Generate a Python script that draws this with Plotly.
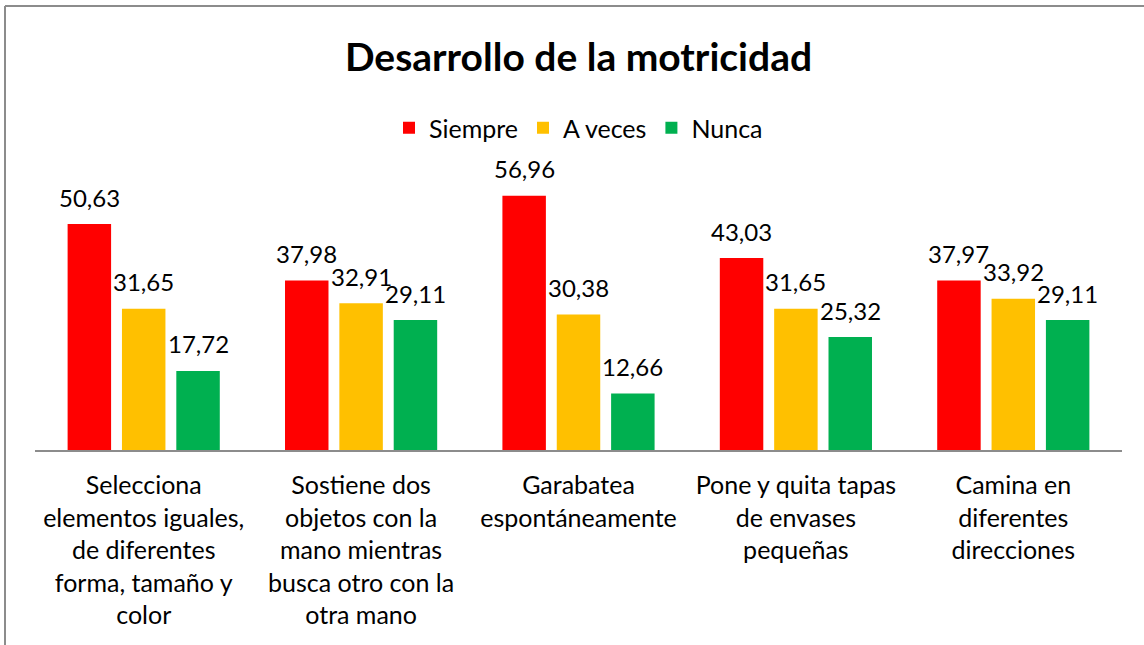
import plotly.graph_objects as go

categories = [
    "Selecciona<br>elementos iguales,<br>de diferentes<br>forma, tamaño y<br>color",
    "Sostiene dos<br>objetos con la<br>mano mientras<br>busca otro con la<br>otra mano",
    "Garabatea<br>espontáneamente",
    "Pone y quita tapas<br>de envases<br>pequeñas",
    "Camina en<br>diferentes<br>direcciones",
]
series_names = ["Siempre", "A veces", "Nunca"]
siempre = [50.63, 37.98, 56.96, 43.03, 37.97]
a_veces = [31.65, 32.91, 30.38, 31.65, 33.92]
nunca = [17.72, 29.11, 12.66, 25.32, 29.11]
colors = ["#FF0000", "#FFC000", "#00B050"]

FONT = "Lato"
W, H = 1144, 645
ML, MR, MT, MB = 35, 22, 160, 195
plot_w = W - ML - MR
plot_h = H - MT - MB
ymax = 65

fig = go.Figure()
all_series = [siempre, a_veces, nunca]
for name, vals, col in zip(series_names, all_series, colors):
    fig.add_trace(go.Bar(name=name, x=categories, y=vals, marker=dict(color=col, line=dict(width=0))))

bargap = 0.25
bargroupgap = 0.2
cat_w = plot_w / len(categories)
slot = cat_w * (1 - bargap) / 3

annotations = []
for i, vals in enumerate(all_series):
    for c, v in zip(categories, vals):
        annotations.append(dict(
            x=c, y=v, xref="x", yref="y",
            text=f"{v:.2f}".replace(".", ","),
            showarrow=False, xanchor="center", yanchor="middle",
            xshift=(i - 1) * slot, yshift=27,
            font=dict(family=FONT, size=24, color="#000000"),
        ))

def px2paper_x(px):
    return (px - ML) / plot_w

def px2paper_y(py):
    return (H - MB - py) / plot_h

shapes = [
    dict(type="line", xref="paper", yref="paper",
         x0=px2paper_x(5), x1=px2paper_x(1150), y0=px2paper_y(6), y1=px2paper_y(6),
         line=dict(color="#8C8C8C", width=2)),
    dict(type="line", xref="paper", yref="paper",
         x0=px2paper_x(5), x1=px2paper_x(5), y0=px2paper_y(6), y1=px2paper_y(650),
         line=dict(color="#8C8C8C", width=2)),
]

fig.update_layout(
    width=W, height=H,
    margin=dict(l=ML, r=MR, t=MT, b=MB, autoexpand=False),
    paper_bgcolor="white", plot_bgcolor="white",
    barmode="group", bargap=bargap, bargroupgap=bargroupgap,
    separators=",.",
    title=dict(text="<b>Desarrollo de la motricidad</b>", x=0.5, xref="paper",
               y=1 - 57 / H, yref="container", xanchor="center", yanchor="middle",
               font=dict(family=FONT, size=39, color="#000000")),
    legend=dict(orientation="h", x=0.5, xanchor="center", y=px2paper_y(128), yanchor="middle",
                font=dict(family=FONT, size=25, color="#000000"), traceorder="normal",
                itemwidth=30),
    font=dict(family=FONT, size=25, color="#000000"),
    xaxis=dict(showline=True, linecolor="#8C8C8C", linewidth=2, ticks="",
               tickfont=dict(family=FONT, size=25, color="#000000"), showgrid=False,
               ticklabelstandoff=12),
    yaxis=dict(range=[0, ymax], visible=False, showgrid=False, zeroline=False),
    annotations=annotations,
    shapes=shapes,
    showlegend=True,
)

fig.write_html("out.html", config={"displayModeBar": False},
               post_script="document.body.style.margin='0';document.body.style.overflow='hidden';")
